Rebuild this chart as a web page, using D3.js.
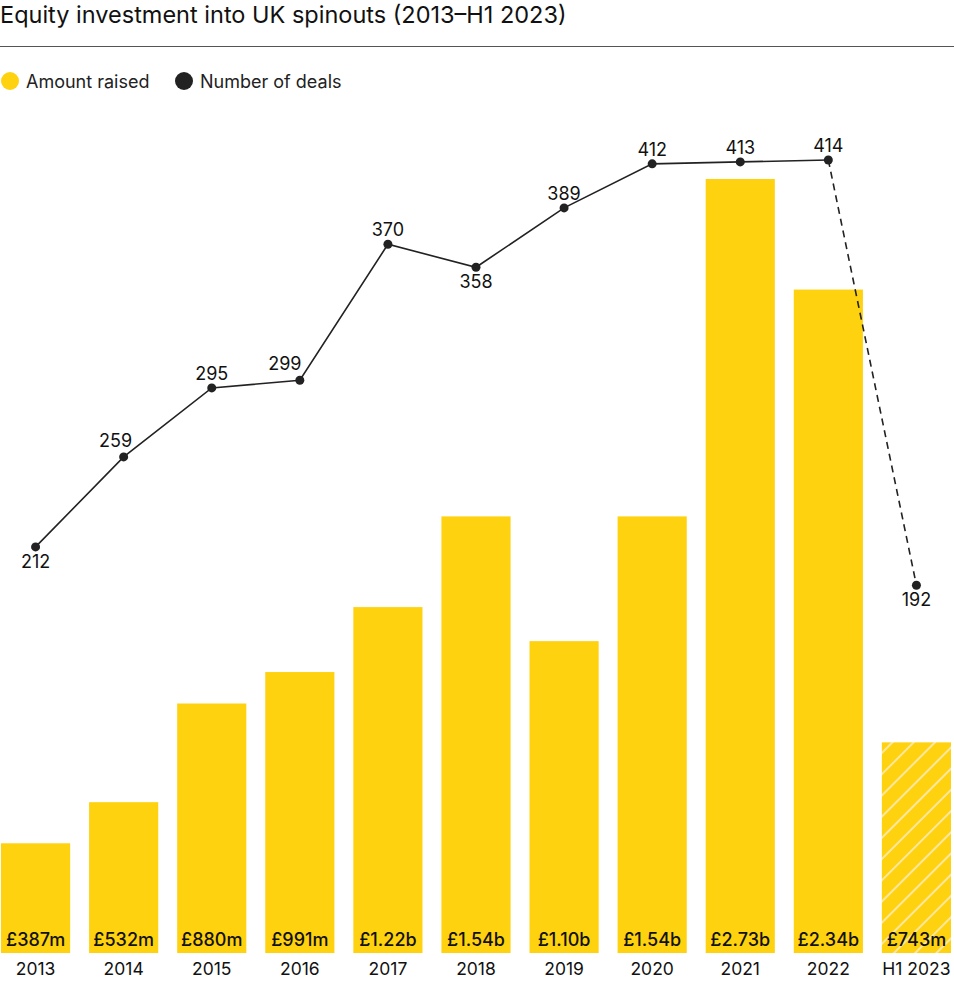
<!DOCTYPE html>
<html>
<head>
<meta charset="utf-8">
<script src="https://cdn.jsdelivr.net/npm/d3@7"></script>
<style>
  body { margin: 0; background: #fff; }
  text { font-family: Inter, "Noto Sans", sans-serif; fill: #111; }
</style>
</head>
<body>
<svg id="chart" width="954" height="981"></svg>
<script>
// data
var years = ["2013", "2014", "2015", "2016", "2017", "2018", "2019", "2020", "2021", "2022", "H1 2023"];
var amounts = [387, 532, 880, 991, 1220, 1540, 1100, 1540, 2730, 2340, 743];
var amountLabels = ["£387m", "£532m", "£880m", "£991m", "£1.22b", "£1.54b", "£1.10b", "£1.54b", "£2.73b", "£2.34b", "£743m"];
var deals = [212, 259, 295, 299, 370, 358, 389, 412, 413, 414, 192];
// labels that sit under the point
var below = [true, false, false, false, false, true, false, false, false, false, true];
// nudge a few labels left so they clear the line
var nudge = [0, -8, 0, -15, 0, 0, 0, 0, 0, 0, 0];

var svg = d3.select("#chart");
var bottom = 953;

var x = d3.scaleBand()
  .domain(years)
  .range([1, 951])
  .paddingInner(0.215)
  .paddingOuter(0);

var yAmt = d3.scaleLinear().domain([0, 2730]).range([bottom, 179]);
var yDeals = d3.scaleLinear().domain([0, 414]).range([bottom, 160]);

// title
svg.append("text")
  .attr("x", 0).attr("y", 23)
  .style("font-size", "23.5px")
  .text("Equity investment into UK spinouts (2013\u2013H1 2023)");

svg.append("line")
  .attr("x1", 0).attr("x2", 954)
  .attr("y1", 46.5).attr("y2", 46.5)
  .style("stroke", "#555").style("stroke-width", 1);

// legend
var legend = [
  { label: "Amount raised", color: "#FFD20F", x: 10 },
  { label: "Number of deals", color: "#222", x: 184 }
];
var lg = svg.selectAll("g.legend").data(legend).enter()
  .append("g").attr("class", "legend");
lg.append("circle")
  .attr("cx", function(d) { return d.x; })
  .attr("cy", 81).attr("r", 9)
  .style("fill", function(d) { return d.color; });
lg.append("text")
  .attr("x", function(d) { return d.x + 16; })
  .attr("y", 88)
  .style("font-size", "18px")
  .style("fill", "#222")
  .text(function(d) { return d.label; });

// hatch pattern for the half year
var defs = svg.append("defs");
var pat = defs.append("pattern")
  .attr("id", "hatch")
  .attr("patternUnits", "userSpaceOnUse")
  .attr("width", 15).attr("height", 15)
  .attr("patternTransform", "rotate(45)");
pat.append("rect").attr("width", 15).attr("height", 15).style("fill", "#FFD20F");
pat.append("line")
  .attr("x1", 0).attr("x2", 0).attr("y1", 0).attr("y2", 15)
  .style("stroke", "#FCE7A0").style("stroke-width", 4);

// bars
svg.selectAll("rect.bar")
  .data(years).enter()
  .append("rect")
  .attr("class", "bar")
  .attr("x", function(d) { return x(d); })
  .attr("width", x.bandwidth())
  .attr("y", function(d, i) { return yAmt(amounts[i]); })
  .attr("height", function(d, i) { return bottom - yAmt(amounts[i]); })
  .style("fill", function(d, i) { return i == years.length - 1 ? "url(#hatch)" : "#FFD20F"; });

// bar value labels
svg.selectAll("text.amt")
  .data(years).enter()
  .append("text")
  .attr("class", "amt")
  .attr("x", function(d) { return x(d) + x.bandwidth() / 2; })
  .attr("y", 946)
  .attr("text-anchor", "middle")
  .style("font-size", "18px")
  .style("font-weight", 500)
  .text(function(d, i) { return amountLabels[i]; });

// year labels
svg.selectAll("text.year")
  .data(years).enter()
  .append("text")
  .attr("class", "year")
  .attr("x", function(d) { return x(d) + x.bandwidth() / 2; })
  .attr("y", 975)
  .attr("text-anchor", "middle")
  .style("font-size", "17.5px")
  .text(function(d) { return d; });

// deals line
var cx = function(i) { return x(years[i]) + x.bandwidth() / 2; };
var line = d3.line()
  .x(function(d, i) { return cx(i); })
  .y(function(d) { return yDeals(d); });

svg.append("path")
  .datum(deals.slice(0, 10))
  .attr("d", line)
  .style("fill", "none")
  .style("stroke", "#222")
  .style("stroke-width", 1.6);

svg.append("line")
  .attr("x1", cx(9)).attr("y1", yDeals(deals[9]))
  .attr("x2", cx(10)).attr("y2", yDeals(deals[10]))
  .style("stroke", "#222")
  .style("stroke-width", 1.6)
  .style("stroke-dasharray", "7,5");

svg.selectAll("circle.pt")
  .data(deals).enter()
  .append("circle")
  .attr("class", "pt")
  .attr("cx", function(d, i) { return cx(i); })
  .attr("cy", function(d) { return yDeals(d); })
  .attr("r", 4.5)
  .style("fill", "#222");

svg.selectAll("text.deal")
  .data(deals).enter()
  .append("text")
  .attr("class", "deal")
  .attr("x", function(d, i) { return cx(i) + nudge[i]; })
  .attr("y", function(d, i) {
    if (below[i]) return yDeals(d) + 21;
    return nudge[i] ? yDeals(d) - 10 : yDeals(d) - 8;
  })
  .attr("text-anchor", "middle")
  .style("font-size", "18px")
  .text(function(d) { return d; });
</script>
</body>
</html>
